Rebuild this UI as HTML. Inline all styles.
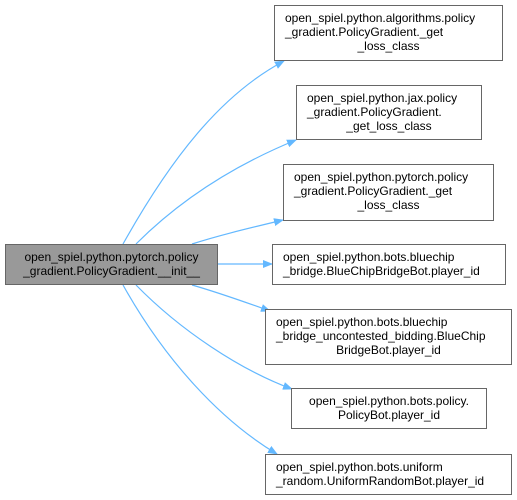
<!DOCTYPE html>
<html><head><style>
body{margin:0;background:#fff;width:517px;height:500px;overflow:hidden;position:relative;font-family:"Liberation Sans",Arial,sans-serif;font-size:12px;}
.n{position:absolute;box-sizing:border-box;border:1px solid #666;background:#fff;line-height:14px;padding:5px 4px 5px 10px;color:#000;white-space:nowrap;}
.n div{margin-left:-6px;}
svg{position:absolute;left:0;top:0;}
</style></head><body>
<svg width="517" height="500">
<defs><marker id="a" markerWidth="10" markerHeight="8" refX="9" refY="4" orient="auto" markerUnits="userSpaceOnUse"><path d="M0,0 L10,4 L0,8z" fill="#63b8ff"/></marker></defs>
<g fill="none" stroke="#63b8ff" stroke-width="1.2" marker-end="url(#a)">
<path d="M123,244 C170,160 220,95 284,61"/>
<path d="M136,244 C180,200 235,165 296,140"/>
<path d="M192,244 C220,235 250,228 283,220"/>
<path d="M218,264 L272,264"/>
<path d="M192,285 C220,293 245,302 270,311"/>
<path d="M136,285 C180,330 240,370 292,389"/>
<path d="M123,285 C165,360 220,420 277,454"/>
</g>
</svg>
<div class="n" style="left:5px;top:244px;width:213px;height:41px;background:#999;text-align:center;padding:5px 4px">open_spiel.python.pytorch.policy<br>_gradient.PolicyGradient.__init__</div>
<div class="n" style="left:274px;top:5px;width:229px;height:56px">open_spiel.python.algorithms.policy<br>_gradient.PolicyGradient._get<br><div style="text-align:center">_loss_class</div></div>
<div class="n" style="left:296px;top:85px;width:186px;height:55px">open_spiel.python.jax.policy<br>_gradient.PolicyGradient.<br><div style="text-align:center">_get_loss_class</div></div>
<div class="n" style="left:283px;top:164px;width:211px;height:57px">open_spiel.python.pytorch.policy<br>_gradient.PolicyGradient._get<br><div style="text-align:center">_loss_class</div></div>
<div class="n" style="left:272px;top:244px;width:234px;height:41px">open_spiel.python.bots.bluechip<br>_bridge.BlueChipBridgeBot.player_id</div>
<div class="n" style="left:265px;top:309px;width:247px;height:56px">open_spiel.python.bots.bluechip<br>_bridge_uncontested_bidding.BlueChip<br><div style="text-align:center">BridgeBot.player_id</div></div>
<div class="n" style="left:291px;top:388px;width:196px;height:41px;text-align:center;padding:5px 4px">open_spiel.python.bots.policy.<br>PolicyBot.player_id</div>
<div class="n" style="left:265px;top:454px;width:247px;height:41px">open_spiel.python.bots.uniform<br>_random.UniformRandomBot.player_id</div>
</body></html>
